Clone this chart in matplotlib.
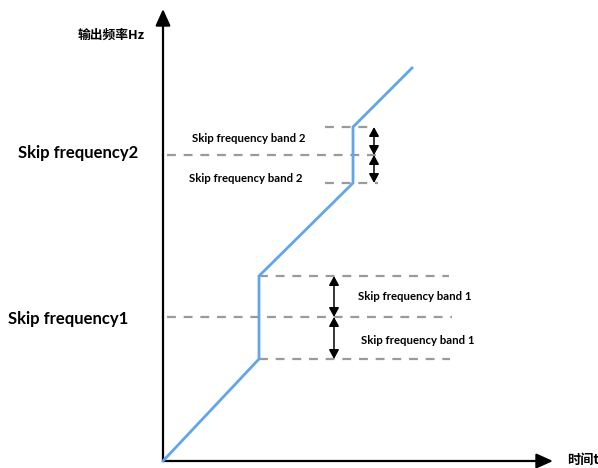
"""
    Skip frequency diagram: output frequency vs. time with two skip bands
"""

import matplotlib.pyplot as plt

# ramp of the output frequency (time, frequency), origin at the axes corner
time_pts = [0, 96, 96, 190, 190, 249]
freq_pts = [0, 102, 185, 278, 334, 393]

# skip frequencies and their band edges
skip_centers = [144, 306]
band_low = [102, 278]
band_high = [185, 334]
skip_labels = ["Skip frequency1", "Skip frequency2"]
band_labels = ["Skip frequency band 1", "Skip frequency band 2"]

x_label = "时间t"
y_label = "输出频率Hz"

BLUE = "#62a6ea"
GREY = "#9a9a9a"
EN_FONT = ["Lato", "DejaVu Sans"]
CN_FONT = ["Noto Sans CJK SC", "DejaVu Sans"]

fig = plt.figure(figsize=(5.98, 4.68), dpi=100)
ax = fig.add_axes([0, 0, 1, 1])
ax.set_xlim(-163, 435)
ax.set_ylim(-7, 461)
ax.axis("off")

# axes with arrows
head = dict(arrowstyle="-|>,head_length=1.0,head_width=0.45", color="black",
            lw=1.6, shrinkA=0, shrinkB=0, mutation_scale=10)
ax.annotate("", xy=(0, 452), xytext=(0, 0), arrowprops=head)
ax.annotate("", xy=(390, 0), xytext=(0, 0), arrowprops=head)

# dashed reference lines
dash = dict(color=GREY, lw=1.6, ls=(0, (4, 3.5)))
ax.plot([4, 289], [skip_centers[0]] * 2, **dash)
ax.plot([96, 286], [band_high[0]] * 2, **dash)
ax.plot([96, 287], [band_low[0]] * 2, **dash)
ax.plot([4, 220], [skip_centers[1]] * 2, **dash)
ax.plot([162, 210], [band_high[1]] * 2, **dash)
ax.plot([162, 215], [band_low[1]] * 2, **dash)

# frequency ramp
ax.plot(time_pts, freq_pts, color=BLUE, lw=2, solid_joinstyle="miter",
        zorder=3)

# double headed band arrows
dbl = dict(arrowstyle="<|-|>,head_length=0.55,head_width=0.3", color="black",
           lw=1.1, shrinkA=0, shrinkB=0, mutation_scale=10)
for x, i in [(171, 0), (211, 1)]:
    ax.annotate("", xy=(x, band_high[i]), xytext=(x, skip_centers[i]),
                arrowprops=dbl)
    ax.annotate("", xy=(x, band_low[i]), xytext=(x, skip_centers[i]),
                arrowprops=dbl)

# labels
ax.text(-145, skip_centers[1] + 2, skip_labels[1], fontsize=12,
        fontweight="bold", family=EN_FONT, va="center", ha="left")
ax.text(-155, skip_centers[0] - 2, skip_labels[0], fontsize=12,
        fontweight="bold", family=EN_FONT, va="center", ha="left")

ax.text(86, 322, band_labels[1], fontsize=8.2, fontweight="bold",
        family=EN_FONT, va="center", ha="center")
ax.text(83, 283, band_labels[1], fontsize=8.2, fontweight="bold",
        family=EN_FONT, va="center", ha="center")
ax.text(252, 164, band_labels[0], fontsize=8.2, fontweight="bold",
        family=EN_FONT, va="center", ha="center")
ax.text(255, 121, band_labels[0], fontsize=8.2, fontweight="bold",
        family=EN_FONT, va="center", ha="center")

ax.text(-18, 426, y_label, fontsize=9.2, fontweight="bold", family=CN_FONT,
        va="center", ha="right")
ax.text(404, 1, x_label, fontsize=9.5, fontweight="bold", family=CN_FONT,
        va="center", ha="left")

plt.savefig("out.png", dpi=100)
